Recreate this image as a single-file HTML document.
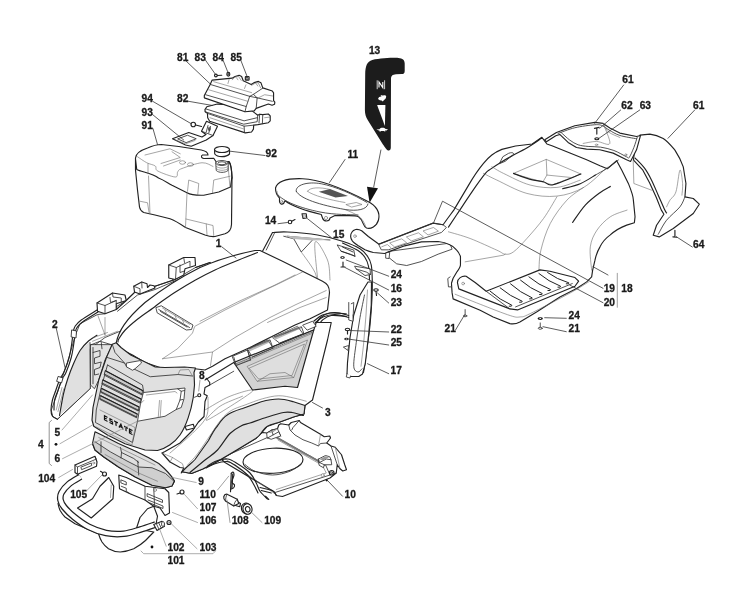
<!DOCTYPE html>
<html><head><meta charset="utf-8">
<style>
html,body{margin:0;padding:0;background:#fff;}
svg{display:block;}
text{font-family:"Liberation Sans",sans-serif;font-weight:bold;font-size:10.2px;fill:#1a1a1a;stroke:#1a1a1a;stroke-width:0.3px;}
.o{fill:#fff;stroke:#222;stroke-width:1.15px;vector-effect:non-scaling-stroke;stroke-linejoin:round;stroke-linecap:round;}
.on{fill:none;stroke:#222;stroke-width:1.15px;vector-effect:non-scaling-stroke;stroke-linejoin:round;stroke-linecap:round;}
.m{fill:none;stroke:#333;stroke-width:0.85px;vector-effect:non-scaling-stroke;stroke-linejoin:round;stroke-linecap:round;}
.mw{fill:#fff;stroke:#333;stroke-width:0.85px;vector-effect:non-scaling-stroke;stroke-linejoin:round;stroke-linecap:round;}
.t{fill:none;stroke:#6a6a6a;stroke-width:0.6px;vector-effect:non-scaling-stroke;stroke-linejoin:round;stroke-linecap:round;}
.tw{fill:#fff;stroke:#6a6a6a;stroke-width:0.6px;vector-effect:non-scaling-stroke;stroke-linejoin:round;stroke-linecap:round;}
.g{fill:#e0e0e0;stroke:#333;stroke-width:0.85px;vector-effect:non-scaling-stroke;stroke-linejoin:round;}
.go{fill:#e0e0e0;stroke:#222;stroke-width:1.15px;vector-effect:non-scaling-stroke;stroke-linejoin:round;}
.gn{fill:#e0e0e0;stroke:none;}
.l{fill:none;stroke:#333;stroke-width:0.8px;vector-effect:non-scaling-stroke;stroke-linecap:round;}
.k{fill:#111;stroke:none;}
</style></head><body>
<svg width="740" height="597" viewBox="0 0 740 597">
<rect width="740" height="597" fill="#fff"/>
<!-- 10_airfilter.svg -->
<g transform="translate(195,68) scale(0.12432)">
<!-- filter element 82 -->
<path class="o" d="M95,312 L80,335 L82,352 L100,365 L102,400 L118,428 L405,522 L455,515 L470,492 L472,460 L505,455 L590,440 L605,425 L605,385 L590,370 L545,375 L520,372 L505,380 L400,300 L180,290 Z"/>
<path class="m" d="M82,352 L392,452 L500,432 L505,380 M100,365 L395,468 L470,460 M395,468 L398,520 M90,330 L395,425 L500,400 M520,372 L515,440 M545,375 L542,448"/>
<path class="t" d="M120,400 L390,490 M560,400 L600,395"/>
<!-- cover 81 -->
<path class="o" d="M122,132 L138,97 L298,82 L322,68 L355,58 L375,68 L388,102 L452,132 L475,118 L510,108 L530,118 L545,160 L622,185 L632,200 L632,262 L642,275 L640,292 L620,300 L590,290 L492,325 L476,345 L402,352 L75,240 L75,222 Z"/>
<path class="m" d="M122,132 L440,228 L470,212 L545,162 M440,228 L412,310 L85,215 M412,310 L402,352 M440,228 L500,240 L622,268 M500,240 L492,325 M470,212 L500,240"/>
<path class="t" d="M150,110 L455,198 M110,175 L425,268 M300,95 L318,75 L350,68 L372,100 M455,140 L480,125 L508,118 L528,160 M275,90 L265,125 M410,135 L398,165 M335,80 L345,95 M495,130 L505,145 M510,240 L560,215 L625,225"/>
<!-- 83 screw -->
<circle class="o" cx="168" cy="60" r="11"/><path class="on" d="M180,60 L215,58"/>
<!-- 84 washer -->
<ellipse class="o" cx="268" cy="50" rx="12" ry="15"/><ellipse class="m" cx="268" cy="50" rx="5" ry="7"/>
<!-- 85 nut -->
<rect class="o" x="405" y="68" width="30" height="30" rx="5"/><rect class="m" x="413" y="76" width="14" height="14"/>
</g>
<!-- 12_tank.svg -->
<g transform="translate(120,105) scale(0.25)">
<!-- bracket 93 -->
<path class="o" d="M210,135 L275,110 L328,128 L344,118 L326,105 L346,65 L390,85 L372,122 L345,140 L285,165 L262,160 Z"/>
<path class="m" d="M232,135 L270,121 L305,135 L266,150 Z M326,105 L372,122 M352,82 L345,108 M362,86 L355,112"/>
<path class="t" d="M222,140 L262,155 L300,142"/>
<ellipse class="m" cx="357" cy="96" rx="3" ry="8"/>
<circle class="o" cx="293" cy="78" r="9"/><path class="on" d="M303,80 L326,86"/>
<!-- tank 91 -->
<path class="o" d="M62,212 C64,195 85,180 110,172 C130,163 150,158 165,158 L235,166 L325,180 C345,184 352,192 352,200 L330,200 C322,204 326,212 335,214 L375,213 L385,228 L436,226 C445,235 447,260 448,290 L446,478 C445,498 435,510 420,515 L380,526 C365,528 352,524 340,520 L262,490 C240,475 220,462 200,455 L140,440 L95,430 C84,425 80,418 78,408 L70,340 L62,260 Z"/>
<path class="on" d="M62,218 L67,258 C85,268 130,272 154,292 C175,300 185,308 208,321 L268,351 C280,358 300,362 335,361 L395,348 L442,328 L447,292"/>
<path class="t" d="M70,207 C76.2,211.0 95.2,224.8 107,231 C118.8,237.2 133.7,238.5 141,244 C148.3,249.5 137.7,256.7 151,264 C164.3,271.3 207.7,287.5 221,288 C234.3,288.5 226.5,272.7 231,267 C235.5,261.3 231.8,260.0 248,254 C264.2,248.0 307.3,232.3 328,231 C348.7,229.7 364.7,243.5 372,246"/><path class="t" d="M114,284 L120,435 M268,352 L262,490 M80,385 L110,391 L117,435 M264,456 L372,482 L375,522 M345,476 L348,518 M164,234 L241,210 L208,187 M174,244 L241,220 M370,350 L375,300 L440,285 M311,358 L315,314 L275,300 L270,345 M112,275 L112,235 M432,240 L440,330 M100,200 L200,175 L241,195"/>
<ellipse class="t" cx="250" cy="230" rx="12" ry="7"/><ellipse class="t" cx="282" cy="238" rx="12" ry="7"/>
<!-- neck -->
<path class="mw" d="M383,232 L385,262 C395,272 420,272 432,262 L433,232 Z"/>
<ellipse class="mw" cx="408" cy="232" rx="25" ry="10"/><ellipse class="m" cx="408" cy="233" rx="17" ry="6"/>
<path class="t" d="M384,245 C395,255 420,255 433,245 M384,254 C395,264 420,264 433,254"/>
<path class="on" d="M436,228 C446,240 447,262 448,292"/>
<!-- cap 92 -->
<path class="o" d="M378,178 L379,196 C390,210 425,210 438,196 L438,178 Z"/>
<ellipse class="o" cx="408" cy="178" rx="30" ry="12"/>
</g>
<!-- 20_decal.svg -->
<g>
<path style="fill:#1c1c1c" d="M365.2,74 C365.4,66 367,61.5 372.3,60 C380,58.3 392,57.7 398.5,57.9 C402.5,58 404.7,60 404.7,63.6 L404.7,71 C404.7,73.4 403.6,74 401.5,74.1 L396,74.2 C392.5,74.4 391,75.8 391,79 L390.8,147.5 C390.8,150 389.5,150.8 387.6,150.2 C386.5,149.8 384,146 382,143 L368,120.5 C365.8,117 364.9,114 364.9,110 Z"/>
<!-- N -->
<path d="M377.2,80.3 V89.2 M384.6,80.3 V89.2" stroke="#fff" stroke-width="0.8" fill="none"/>
<path d="M379,87.6 V82 L382.8,87.6 V82" stroke="#fff" stroke-width="1.1" fill="none" stroke-linejoin="miter"/>
<!-- rabbit -->
<path fill="#fff" d="M378,99 C378.5,97 380,96.3 381.5,96.5 L380.5,95 L382.5,95.6 L384.5,95.3 C385.8,95 386.6,96.2 386,97.6 L385.5,98.8 L384,100 L382.8,101.6 L381.6,100.4 L379.8,100.2 Z"/>
<!-- triangle -->
<path fill="#fff" d="M377.1,105 L385.4,105 L384.9,126 Z"/>
<!-- turtle -->
<path fill="#fff" d="M376.3,129.6 L379.5,129.3 C380.5,127.4 384.5,127.4 385.6,129.1 L388,129.3 L386.5,130.4 L385,130.6 L385.3,131.8 L383.8,131 L381,131 L379.8,132 L379.6,130.8 Z"/>
<!-- arrow -->
<path class="l" d="M380.9,150 L373.7,187"/>
<path class="k" d="M367,186.7 L378,188.2 L369.6,202.8 Z"/>
</g>
<!-- 30_cover11.svg -->
<g transform="translate(270,130) scale(0.25)">
<!-- cover 11 -->
<path class="o" d="M22,232 C30,205 70,193 130,195 C200,197 300,238 390,285 C425,302 442,330 434,360 C427,385 402,398 386,392 C370,385 374,360 354,347 C338,338 300,345 260,342 L240,352 C238,368 215,368 210,352 L205,338 C150,325 90,305 60,283 L55,293 C48,300 38,296 38,285 L38,272 C28,262 22,248 22,232 Z"/>
<path class="m" d="M28,255 C50,285 120,312 200,328 C260,340 320,338 352,340 M105,245 C100,220 150,205 205,215 C262,226 335,258 388,290 M105,245 C120,275 200,300 300,318 C350,326 388,318 392,296"/>
<path class="t" d="M150,245 C160,228 200,228 240,238 M150,245 C170,262 240,280 300,290 M305,298 L345,290 L368,298 L328,308 Z M300,318 C340,335 372,345 384,390 M28,245 L30,262"/>
<path d="M195,247 L240,236 L312,264 L262,270 Z" fill="#555"/>
<ellipse class="t" cx="47" cy="286" rx="4" ry="5"/><ellipse class="t" cx="224" cy="352" rx="6" ry="7"/>
<!-- 15 nut -->
<path class="o" d="M128,335 L145,335 L147,352 L132,354 Z"/><path class="t" d="M133,340 L141,340 L142,348 L134,349 Z"/>
<!-- 14 screw -->
<circle class="o" cx="80" cy="368" r="7"/><path class="on" d="M87,365 L100,358"/>
</g>
<!-- 30_rearbody.svg -->
<g transform="translate(370,130) scale(0.3338)">
<!-- underside of left footboard -->
<path class="mw" d="M47,366 L55,381 L80,401 L110,406 L154,394 L204,372 L246,357 L239,340 Z"/>
<path class="mw" d="M47,368 L47,384 L57,385 L59,367 Z"/>
<!-- main body -->
<path class="o" d="M27,342 L189,279 L219,284 C230,268 240,255 251,240 L295,166 C310,140 325,118 340,100 C348,90 356,82 365,75 C375,67 385,62 395,58 L436,48 L486,42 L515,22 L530,42 L545,47 L599,69 L649,89 L689,107 L711,116 L739,92 L754,120 L774,160 C784,185 789,200 789,210 L794,260 L792,278 L769,285 C750,292 730,305 719,315 C705,325 695,338 689,350 C680,365 676,380 674,390 L667,420 L664,440 L649,455 L619,475 L569,500 L499,545 L449,575 C440,580 430,582 419,580 L369,560 L330,540 L249,506 L246,488 L244,459 L249,444 L261,424 C268,415 271,410 271,404 L271,379 C268,370 264,364 259,359 C252,350 246,347 239,344 C228,338 215,335 204,334 L154,335 L104,347 L55,365 L44,370 L10,367 C0,365 -8,362 -15,359 L-35,347 C-45,340 -50,336 -53,332 C-57,326 -58,322 -58,319 C-58,314 -57,310 -55,307 C-52,302 -48,299 -43,298 C-36,297 -30,299 -25,302 L-5,319 Z"/>
<circle class="t" cx="-45" cy="318" r="4"/>
<!-- left footboard top -->
<path class="m" d="M27,342 L189,279 L219,284 L229,292 L214,307 L55,359 L35,359 Z"/>
<path class="t" d="M60,338 L95,326 L110,338 L75,350 Z M110,320 L145,308 L160,320 L125,332 Z M160,302 L190,292 L205,303 L175,314 Z M35,350 L52,343 L62,352"/>
<!-- rail inner -->
<path class="on" d="M235,291 C240.0,283.5 253.3,263.5 265,246 C276.7,228.5 291.7,205.2 305,186 C318.3,166.8 335.8,142.3 345,131 C354.2,119.7 351.7,124.0 360,118 C368.3,112.0 383.3,102.2 395,95 C406.7,87.8 416.5,82.5 430,75 C443.5,67.5 462.2,58.3 476,50 C489.8,41.7 506.8,29.2 513,25"/>
<path class="m" d="M388,100 L398,80 L415,70 C424,66 432,68 430,73 L406,93 Z"/>
<!-- top face perimeter -->
<path class="t" d="M340,130 C346.7,133.3 358.3,140.0 380,150 C401.7,160.0 440.0,182.0 470,190 C500.0,198.0 531.7,201.0 560,198 C588.3,195.0 615.0,186.3 640,172 C665.0,157.7 698.3,122.0 710,112"/>
<path class="t" d="M365,110 C370.8,113.3 380.8,120.8 400,130 C419.2,139.2 453.3,158.0 480,165 C506.7,172.0 535.0,174.5 560,172 C585.0,169.5 618.3,153.7 630,150"/>
<path class="t" d="M640,172 C631.7,178.3 606.7,192.0 590,210 C573.3,228.0 553.0,255.0 540,280 C527.0,305.0 517.7,336.7 512,360 C506.3,383.3 507.0,410.0 506,420"/>
<path class="t" d="M235,305 C245.8,308.3 275.8,315.8 300,325 C324.2,334.2 362.5,352.2 380,360 C397.5,367.8 396.7,371.2 405,372 C413.3,372.8 419.2,372.8 430,365 C440.8,357.2 455.0,341.7 470,325 C485.0,308.3 505.0,285.8 520,265 C535.0,244.2 553.3,210.8 560,200"/>
<path class="t" d="M285,395 L400,375 L405,372"/>
<path class="t" d="M664,420 C663.3,408.3 657.3,370.0 660,350 C662.7,330.0 670.0,315.0 680,300 C690.0,285.0 705.0,270.0 720,260 C735.0,250.0 761.7,243.3 770,240"/>
<!-- seat hole -->
<path class="t" d="M430,130 L528,88 L632,132 L548,164 Z M528,88 L530,135 L520,152 M530,135 L600,142"/>
<path class="on" d="M430,130 C438.3,133.0 465.0,143.8 480,148 C495.0,152.2 508.7,152.3 520,155 C531.3,157.7 529.3,167.8 548,164 C566.7,160.2 618.0,137.3 632,132"/>
<!-- grooves -->
<path class="on" d="M577,176 C585.8,173.5 613.7,167.8 630,161 C646.3,154.2 667.5,139.3 675,135"/>
<path class="on" d="M607,277 C613.3,268.3 631.2,240.0 645,225 C658.8,210.0 677.5,196.3 690,187 C702.5,177.7 715.0,172.0 720,169"/>
<path class="m" d="M675,135 C680.8,131.7 698.5,122.5 710,115 C721.5,107.5 738.3,94.2 744,90"/>
<!-- right footboard -->
<path class="o" d="M262,457 C262,445 275,436 288,438 L315,457 L348,483 L509,419 L539,423 L614,442 L625,453 L614,468 L442,539 L419,536 L266,476 Z"/>
<circle class="t" cx="279" cy="460" r="4"/>
<path class="m" d="M348,483 L419,536 M436,530 L606,460"/>
<path class="on" style="stroke-width:1px" d="M360,483 Q388.5,509 425,525 q2,4 -8,3 M390,473 Q419,498 456,513 q2,4 -8,3 M421,461 Q449.5,487 486,503 q2,4 -8,3 M451,450 Q479.5,475 516,490 q2,4 -8,3 M476,440 Q504.5,464 541,478 q2,4 -8,3 M506,430 Q534.5,454 571,468 q2,4 -8,3 M532,427 Q560,447.5 596,458 q2,4 -8,3"/>
<!-- lower skirt line -->
<path class="t" d="M255,492 C267.5,497.0 302.5,511.3 330,522 C357.5,532.7 400.0,549.7 420,556 C440.0,562.3 440.0,561.0 450,560 C460.0,559.0 455.0,562.0 480,550 C505.0,538.0 570.8,503.8 600,488 C629.2,472.2 645.8,460.5 655,455"/>
<path class="mw" d="M240,440 L233,445 L235,470 L243,470"/>
<path class="m" d="M285,538 L285,554"/><ellipse class="mw" cx="285" cy="557" rx="5" ry="2.5"/>
<ellipse class="k" cx="510" cy="565" rx="8" ry="4"/><ellipse cx="510" cy="565" rx="3" ry="1.5" fill="#fff"/>
<path class="m" d="M510,578 L510,592"/><ellipse class="mw" cx="510" cy="594" rx="6" ry="3"/>
</g>
<!-- 32_fender.svg -->
<g transform="translate(493,60) scale(0.3338)">
<!-- fender outer 61 -->
<path class="o" d="M440,225 L470,222 C490,225 500,230 510,235 C525,245 535,258 545,270 C558,290 565,305 570,320 L578,370 L575,410 L600,415 L618,432 L600,460 L540,505 L498,530 L480,525 L490,495 L512,462 L504,449 L489,411 L469,368 L449,330 L421,300 L425,260 Z"/>
<path class="on" d="M426,294 C430.7,299.0 445.8,313.0 454,324 C462.2,335.0 468.2,346.5 475,360 C481.8,373.5 488.5,390.3 495,405 C501.5,419.7 509.8,439.2 514,448 C518.2,456.8 519.0,456.3 520,458"/>
<path class="m" d="M575,410 C572.5,415.0 569.2,428.3 560,440 C550.8,451.7 530.8,466.3 520,480 C509.2,493.7 499.2,515.0 495,522"/>
<path class="t" d="M520,440 C521.7,436.7 525.3,427.5 530,420 C534.7,412.5 543.0,410.0 548,395 C553.0,380.0 556.7,334.2 560,330 C563.3,325.8 567.0,357.5 568,370 C569.0,382.5 566.3,399.2 566,405"/>
<path class="t" d="M420,300 L422,370 L475,390"/>
<!-- seat pan 61 -->
<path class="o" d="M155,239 L190,217 L245,197 L305,187 L330,190 L350,204 L380,219 L430,229 L442,226 L430,269 L412,304 L400,299 L360,279 L320,269 L280,267 L250,262 L225,247 L200,223 L188,227 L160,245 Z"/>
<path class="m" d="M205,218 C209.2,221.7 221.7,234.0 230,240 C238.3,246.0 245.8,250.8 255,254 C264.2,257.2 273.8,257.8 285,259 C296.2,260.2 309.2,259.0 322,261 C334.8,263.0 349.0,266.2 362,271 C375.0,275.8 392.3,286.5 400,290 C407.7,293.5 404.3,296.7 408,292 C411.7,287.3 418.0,272.0 422,262 C426.0,252.0 430.3,237.0 432,232"/>
<path class="m" d="M195,220 C203.3,217.2 226.7,207.3 245,203 C263.3,198.7 291.2,195.0 305,194 C318.8,193.0 320.8,194.3 328,197 C335.2,199.7 339.3,205.2 348,210 C356.7,214.8 366.3,221.7 380,226 C393.7,230.3 421.7,234.3 430,236"/>
<path class="t" d="M270,250 C276.7,249.0 296.7,244.0 310,244 C323.3,244.0 346.7,259.0 350,250 C353.3,241.0 330.8,195.8 330,190 C329.2,184.2 336.7,208.0 345,215 C353.3,222.0 374.2,229.2 380,232"/>
<circle class="t" cx="398" cy="284" r="3"/><ellipse class="t" cx="310" cy="254" rx="4" ry="2"/>
<!-- 62 screw, 63 washer -->
<path class="on" d="M304,205 L318,202 M311,204 L311,222"/>
<ellipse class="on" cx="311" cy="236" rx="6" ry="3"/>
<!-- 64 -->
<path class="on" d="M545,510 L545,528 M539,530 L551,531"/>
</g>
<!-- 35_dash.svg -->
<g transform="translate(255,215) scale(0.25)">
<!-- top plate -->
<path d="M70,70 L130,68 L250,80 L350,105 L420,135 L450,165 L465,200 L468,260 L440,270 L300,330 L0,250 L30,145 Z" fill="#fff"/>
<path class="on" d="M70,70 C80.0,69.7 100.0,66.3 130,68 C160.0,69.7 213.3,73.8 250,80 C286.7,86.2 321.7,95.8 350,105 C378.3,114.2 403.3,125.0 420,135 C436.7,145.0 442.5,154.2 450,165 C457.5,175.8 461.8,184.2 465,200 C468.2,215.8 468.5,238.3 469,260 C469.5,281.7 469.5,300.0 468,330 C466.5,360.0 463.5,405.0 460,440 C456.5,475.0 451.3,508.3 447,540 C442.7,571.7 436.2,615.0 434,630"/>
<path class="on" d="M350,112 C360.3,117.0 397.0,132.3 412,142 C427.0,151.7 433.0,159.5 440,170 C447.0,180.5 451.0,190.0 454,205 C457.0,220.0 457.3,250.8 458,260"/>
<path class="on" d="M70,70 L30,145"/>
<path class="m" d="M115,85 L155,95 L185,148 L230,100 M78,72 L45,140 M130,85 L240,95 L300,100"/>
<path class="gn" d="M118,82 L240,92 L300,100 L232,102 L155,96 Z" style="fill:#bbb"/>
<path class="t" d="M185,148 C194.2,161.7 228.3,204.7 240,230 C251.7,255.3 255.0,320.0 255,300 C255.0,280.0 234.2,130.0 240,110 C245.8,90.0 280.0,155.0 290,180 C300.0,205.0 298.3,246.7 300,260"/>
<!-- brackets -->
<path class="mw" d="M330,120 L395,140 L400,165 L345,145 Z"/>
<path class="m" d="M345,145 L385,158 L400,165 M350,128 L392,148" style="stroke:#222"/>
<path class="mw" d="M400,205 L460,215 L462,238 L440,242 L405,216 Z"/>
<path class="m" d="M405,216 L445,228 L462,238"/>
<!-- panel 17 -->
<path class="o" d="M452,268 L420,320 L395,400 L380,490 L370,590 L368,635 L375,646 L415,646 L430,636 L441,595 L455,474 L465,360 L466,268 Z"/>
<path class="m" d="M438,320 C435.0,335.0 425.5,378.3 420,410 C414.5,441.7 409.2,477.5 405,510 C400.8,542.5 393.8,585.3 395,605 C396.2,624.7 406.5,626.3 412,628 C417.5,629.7 425.3,617.2 428,615"/>
<path class="t" d="M450,300 L444,400 L434,520 L424,605"/>
<path class="mw" d="M375,350 L375,420 L392,425 L392,400 M385,355 L395,350 L393,400"/>
<path class="mw" d="M355,528 L375,522 L372,540 Z"/>
<path class="mw" d="M368,635 L365,648 L380,652 L382,644"/>
<!-- cable -->
<path class="on" d="M235,425 C240.8,420.8 255.8,405.8 270,400 C284.2,394.2 302.5,389.7 320,390 C337.5,390.3 365.8,400.0 375,402"/>
<path class="on" d="M240,432 C245.3,428.0 258.7,413.7 272,408 C285.3,402.3 302.8,397.7 320,398 C337.2,398.3 365.8,408.0 375,410"/>
<!-- small hardware -->
<ellipse class="k" cx="350" cy="170" rx="9" ry="5"/><ellipse cx="350" cy="170" rx="4" ry="2" fill="#fff"/>
<path class="on" d="M352,188 L352,206 M344,208 L360,208"/>
<ellipse class="o" cx="484" cy="300" rx="9" ry="5"/><path class="on" d="M484,305 L486,322"/>
<ellipse class="o" cx="370" cy="458" rx="9" ry="5"/><path class="on" d="M370,463 L370,476"/>
<ellipse class="k" cx="366" cy="496" rx="9" ry="5"/><ellipse cx="366" cy="496" rx="4" ry="2" fill="#fff"/>
</g>
<!-- 40_panel2.svg -->
<g transform="translate(30,235) scale(0.25)">
<!-- panel body -->
<path class="mw" d="M720,110 L662,130 L580,178 L500,205 L420,228 L385,262 L300,315 L270,318 L200,355 L185,392 L170,440 L150,510 L135,550 L120,600 L100,660 L85,700 L90,725 L110,737 L241,614 L240,455 L300,410 L360,385 L720,250 Z"/>
<path class="gn" d="M238,428 L201,461 L174,515 L151,575 L134,635 L118,722 L241,614 Z"/>
<path class="m" d="M241,614 L112,735 M240,430 L241,614"/>
<path class="on" d="M268,401 C262.3,404.8 245.2,414.0 234,424 C222.8,434.0 211.0,445.8 201,461 C191.0,476.2 182.3,496.0 174,515 C165.7,534.0 157.7,555.0 151,575 C144.3,595.0 139.5,610.5 134,635 C128.5,659.5 120.7,707.5 118,722"/>
<!-- rail thick -->
<path class="on" d="M268,300 C257.5,306.7 219.5,329.3 205,340 C190.5,350.7 186.3,356.2 181,364 C175.7,371.8 175.3,375.3 173,387 C170.7,398.7 169.7,417.2 167,434 C164.3,450.8 162.2,469.0 157,488 C151.8,507.0 142.2,533.5 136,548 C129.8,562.5 125.5,562.7 120,575 C114.5,587.3 108.0,608.0 103,622 C98.0,636.0 93.2,646.0 90,659 C86.8,672.0 84.0,689.0 84,700 C84.0,711.0 85.7,718.8 90,725 C94.3,731.2 106.7,735.0 110,737"/>
<path class="on" d="M272,308 C261.7,314.7 224.0,337.7 210,348 C196.0,358.3 192.8,363.2 188,370 C183.2,376.8 183.2,378.0 181,389 C178.8,400.0 177.7,419.2 175,436 C172.3,452.8 170.2,471.0 165,490 C159.8,509.0 150.2,535.5 144,550 C137.8,564.5 133.5,564.7 128,577 C122.5,589.3 116.0,610.0 111,624 C106.0,638.0 100.5,648.3 98,661 C95.5,673.7 96.3,693.5 96,700"/>
<path class="mw" d="M168,380 L186,384 L184,412 L166,408 Z M114,566 L132,572 L126,592 L108,586 Z" style="stroke:#222"/>
<path class="t" d="M300,400 L270,318 M300,400 L300,330 M250,425 L350,385 M255,410 L310,390 M105,700 L128,610 M112,706 L135,615"/>
<!-- top edge toward hood -->
<path class="on" d="M720,110 L662,130 M580,178 L500,205 M420,228 L385,262 L345,298"/>
<path class="m" d="M700,128 L600,175 L500,218 L430,240 L350,305"/>
<!-- clip A -->
<path class="o" d="M268,272 L330,232 L380,240 L385,262 L345,275 L345,298 L300,315 L270,305 Z"/>
<path class="m" d="M268,272 L300,282 L345,262 L345,275 M300,282 L300,315 M320,250 L322,270 L345,262 M330,232 L332,248 L365,252 L365,268"/>
<!-- clip B -->
<path class="o" d="M415,205 L447,188 L468,195 L470,210 L480,200 L496,203 L500,212 L440,236 L418,228 Z"/>
<path class="m" d="M415,205 L440,215 L440,236 M447,188 L448,212"/>
<!-- clip C -->
<path class="o" d="M555,120 L615,90 L660,90 L662,122 L620,135 L615,160 L580,178 L555,172 Z"/>
<path class="m" d="M555,120 L585,130 L640,105 L640,125 M585,130 L582,178 M600,120 L600,150 L615,145 M615,90 L618,110 M570,178 L575,190"/>
</g>
<!-- 44_tray.svg -->
<g transform="translate(200,400) scale(0.25)">
<path class="o" d="M60,215 L250,130 L268,132 L288,120 L310,115 L315,100 L323,95 L355,100 L365,90 L397,82 L402,90 L482,137 L497,147 L519,144 L522,152 L507,172 L524,184 L541,189 L566,219 L579,259 L586,279 L571,284 L559,274 L549,259 L545,292 L520,312 L330,386 L305,382 L298,368 L100,250 Z"/>
<path class="m" d="M355,100 L360,120 L380,140 L412,159 L447,172 L474,184 L482,174 L507,172 M397,82 L372,110 L367,120 M524,184 L549,259 M100,225 L270,150 M303,147 L502,259 L520,300 L300,370 M520,300 L545,292 M323,144 L315,127"/>
<path class="t" d="M312,160 L490,262 L505,292 L305,358 M100,235 L295,372 M541,189 L560,274 M482,137 L474,184"/>
<path class="m" d="M306,150 L500,260" style="stroke-dasharray:1 1;stroke-width:2px;stroke:#777"/>
<!-- left clip -->
<path class="mw" d="M268,132 L288,120 L310,115 L315,127 L323,144 L305,150 L285,157 L270,152 Z"/>
<path class="m" d="M288,120 L292,140 L315,127 M270,152 L292,140"/>
<path class="gn" d="M272,132 L288,123 L308,118 L290,130 Z" style="fill:#999"/>
<!-- right clip -->
<path class="mw" d="M474,236 L502,222 L519,227 L524,239 L527,259 L497,259 L494,271 L478,262 Z"/>
<path class="m" d="M474,236 L478,250 L497,259 M478,250 L505,236 L524,239"/>
<path class="gn" d="M478,237 L502,225 L516,229 L492,242 Z" style="fill:#999"/>
<!-- hole -->
<ellipse class="on" cx="292" cy="243" rx="120" ry="50" transform="rotate(-3 292 243)"/>
<path class="m" d="M180,258 C186.7,262.5 201.7,278.0 220,285 C238.3,292.0 266.7,300.0 290,300 C313.3,300.0 340.8,292.5 360,285 C379.2,277.5 397.5,260.0 405,255"/>
<!-- bolt right -->
<circle class="o" cx="527" cy="291" r="9"/><circle class="m" cx="527" cy="291" r="4"/><circle class="tw" cx="491" cy="301" r="6"/>
<circle class="k" cx="507" cy="321" r="4.5"/>
<!-- 110 pin -->
<path class="on" d="M125,293 L122,367 M131,296 L128,352"/>
<path class="on" d="M125,293 C126.2,292.2 130.2,286.8 132,288 C133.8,289.2 136.3,295.0 136,300 C135.7,305.0 131.3,313.0 130,318 C128.7,323.0 126.7,326.3 128,330 C129.3,333.7 137.0,336.3 138,340 C139.0,343.7 136.3,349.3 134,352 C131.7,354.7 125.7,355.3 124,356"/>
<!-- 108 pin -->
<path class="o" d="M145,404 L162,414 L159,427 L142,422 Z"/>
<path class="o" d="M95,387 C97,380 102,376 108,377 L149,397 L155,414 L135,424 L102,404 C97,400 94,394 95,387 Z"/>
<path class="m" d="M149,397 C142,402 136,414 135,424 M108,377 C104,385 102,396 102,404"/>
<!-- 109 bushing -->
<ellipse class="o" cx="185" cy="434" rx="19" ry="22" transform="rotate(-15 185 434)"/>
<ellipse class="o" cx="190" cy="436" rx="18" ry="21" transform="rotate(-15 190 436)"/>
<ellipse class="on" cx="191" cy="437" rx="9" ry="11" transform="rotate(-15 191 437)"/>
</g>
<!-- 45_body3.svg -->
<g transform="translate(180,300) scale(0.25)">
<!-- cable to dash -->
<path class="on" d="M545,98 C547.5,93.7 550.8,79.7 560,72 C569.2,64.3 582.5,54.8 600,52 C617.5,49.2 654.2,54.5 665,55"/>
<path class="on" d="M556,100 C558.3,96.7 561.8,86.3 570,80 C578.2,73.7 589.2,64.3 605,62 C620.8,59.7 655.0,65.3 665,66"/>
<!-- body -->
<path class="o" d="M100,320 L215,250 L535,120 L545,90 L605,90 L590,160 L560,280 L530,400 L500,422 L496,456 L454,468 L394,490 L348,506 L325,532 L303,554 L227,600 L151,645 L91,676 L46,694 L8,687 L5,692 L15,672 L0,670 L-40,648 L-72,612 L-60,606 L0,572 L53,519 L73,489 L96,466 L100,406 L109,383 L96,376 L100,350 L119,340 L119,330 L106,313 Z"/>
<!-- band -->
<path class="go" d="M19,676 C35,660 48,652 60,638 L114,562 C125,540 135,520 151,502 C162,485 172,470 189,460 C205,448 225,442 250,434 L325,407 C350,400 370,396 394,396 C415,396 435,402 454,407 L500,422 L496,456 L454,468 L394,490 C375,495 360,498 348,506 C338,512 333,522 325,532 C318,542 312,548 303,554 L227,600 L151,645 L91,676 L46,694 L8,687 Z"/>
<path class="on" d="M40,690 C50.0,681.7 81.7,655.0 100,640 C118.3,625.0 133.3,617.7 150,600 C166.7,582.3 184.3,550.0 200,534 C215.7,518.0 230.7,511.0 244,504 C257.3,497.0 262.3,498.0 280,492 C297.7,486.0 327.7,475.0 350,468 C372.3,461.0 397.7,453.0 414,450 C430.3,447.0 434.7,448.0 448,450 C461.3,452.0 486.3,460.0 494,462"/>
<path class="t" d="M30,660 C36.7,652.5 54.2,635.8 70,615 C85.8,594.2 109.2,557.8 125,535 C140.8,512.2 151.7,493.5 165,478 C178.3,462.5 189.2,451.7 205,442 C220.8,432.3 239.2,427.8 260,420 C280.8,412.2 307.5,401.2 330,395 C352.5,388.8 374.2,383.5 395,383 C415.8,382.5 436.7,388.3 455,392 C473.3,395.7 496.7,402.8 505,405"/>
<path class="t" d="M100,440 C116.7,430.8 168.3,397.5 200,385 C231.7,372.5 305.0,349.2 290,365 C275.0,380.8 131.7,470.0 110,480 C88.3,490.0 136.7,440.8 160,425 C183.3,409.2 235.0,391.7 250,385"/>
<path class="t" d="M112,390 C111.0,402.7 116.3,442.2 106,466 C95.7,489.8 74.3,508.7 50,533 C25.7,557.3 -25.0,598.8 -40,612"/>
<path class="m" d="M119,340 L215,285"/>
<path class="t" d="M-40,648 L-30,630 L10,655 L15,672 M-72,612 L-30,630"/>
<!-- front flange clips -->
<path class="o" d="M20,506 L53,497 L58,512 L26,520 Z"/>
<circle class="o" cx="77" cy="381" r="6"/><path class="m" d="M70,384 L58,389"/>
<!-- engine blocks -->
<path class="mw" d="M210,225 L270,200 L282,240 L225,262 Z M272,195 L352,160 L372,192 L290,228 Z M372,150 L470,105 L492,135 L400,172 Z M492,100 L530,85 L545,105 L510,120 Z"/>
<path class="gn" d="M372,150 L470,105 L478,116 L380,160 Z M272,195 L352,160 L358,170 L278,206 Z" style="fill:#bbb"/>
<!-- vent -->
<path class="go" d="M215,250 L535,120 L470,350 L420,345 L290,360 Z" style="fill:#d2d2d2"/>
<path class="gn" d="M270,265 L510,160 L455,310 L310,325 Z" style="fill:#dedede"/>
<path class="t" d="M270,265 L510,160 L455,310 L310,325 Z M278,272 L498,176 L448,302 L316,316 Z M310,325 L360,295 L420,290 L455,310 M222,262 L528,134"/>
<path class="m" d="M222,256 L530,128" style="stroke-dasharray:1 1.2;stroke:#555"/>
</g>
<!-- 46_rod.svg -->
<g transform="translate(200,400) scale(0.25)">
<!-- rod -->
<path class="on" d="M30,265 C35.0,261.8 46.7,250.8 60,246 C73.3,241.2 95.0,234.5 110,236 C125.0,237.5 135.0,245.7 150,255 C165.0,264.3 187.5,279.2 200,292 C212.5,304.8 218.3,319.8 225,332 C231.7,344.2 232.5,354.3 240,365 C247.5,375.7 265.0,390.8 270,396"/>
<path class="on" d="M25,272 C30.8,269.2 46.2,259.3 60,255 C73.8,250.7 93.8,244.5 108,246 C122.2,247.5 131.3,255.0 145,264 C158.7,273.0 178.3,287.7 190,300 C201.7,312.3 208.0,326.0 215,338 C222.0,350.0 229.2,366.3 232,372"/>
<path class="on" d="M240,350 L290,362 L305,380 M245,362 L285,372 M262,385 L275,398"/>
</g>
<!-- 50_hood.svg -->
<g transform="translate(95,235) scale(0.25)">
<path class="o" d="M85,430 C95,385 120,340 200,270 C270,215 350,165 420,130 C470,108 560,78 640,62 L660,62 L750,105 L840,150 L910,185 C930,195 937,205 938,230 L930,300 L860,335 L800,360 L720,400 L620,450 L520,495 L470,525 L440,540 L400,535 L330,535 L260,530 L200,510 L150,480 L100,455 Z"/>
<path class="on" d="M92,428 C92.5,426.0 90.3,423.8 95,416 C99.7,408.2 107.3,394.3 120,381 C132.7,367.7 152.5,350.7 171,336 C189.5,321.3 216.0,304.0 231,293 C246.0,282.0 245.8,280.8 261,270 C276.2,259.2 298.5,243.0 322,228 C345.5,213.0 375.7,194.7 402,180 C428.3,165.3 453.7,152.3 480,140 C506.3,127.7 531.7,117.7 560,106 C588.3,94.3 635.0,76.0 650,70"/>
<path class="t" d="M270,495 L330,455 L390,392 L398,368 M270,495 L470,468 L462,522 M470,468 L560,410 L700,330 L800,280 L925,222 M400,365 L520,300 L640,240 L740,192 L830,148 M420,345 L570,268 L720,200 L800,160 M690,350 L820,290 L925,250"/>
<!-- scoop -->
<path class="m" d="M245,290 L265,283 L392,360 L386,378 L365,380 L250,312 Z"/>
<path class="m" d="M255,298 L378,370 M262,306 L368,368"/>
<path class="t" d="M270,292 L380,358 M280,300 L285,312 M320,322 L325,335 M350,340 L355,352"/>
</g>
<!-- 55_blocks.svg -->
<g transform="translate(180,300) scale(0.25)">
<path d="M276,194 L360,160 M378,148 L486,108" fill="none" stroke="#444" stroke-width="7" stroke-dasharray="3 1.5"/>
<path class="m" d="M270,200 L282,240 M360,160 L372,192 M486,108 L496,135 M372,192 L290,228 M496,135 L400,172 M215,228 L225,262 L282,240"/>
</g>
<!-- 60_grille.svg -->
<g transform="translate(75,335) scale(0.25)">
<!-- left toothed bracket -->
<path class="mw" d="M62,40 L62,200 L78,215 L95,180 L120,100 L150,40 Z" style="fill:#e4e4e4"/>
<path class="m" d="M62,40 L100,25 L150,40 M72,50 L72,195 M72,70 L100,62 L100,85 L78,92 L78,115 L105,108 L100,130 L78,138 L78,160 L95,156 M105,30 L108,55"/>
<!-- grille main -->
<path class="go" d="M149,37 L165,31 L184,50 L223,80 L262,99 L295,115 L321,128 L360,130 L438,128 L482,132 L476,150 L478,200 L473,250 C465,300 445,365 420,400 C400,430 360,455 330,462 L280,460 L200,435 L130,400 L75,365 L68,340 L72,290 L95,180 L126,89 Z"/>
<!-- grille top edge -->
<path class="m" d="M126,89 L198,112 L207,128 L240,138 L301,167 L412,158 L470,164 M130,120 L270,200 L275,230 M130,120 L105,210 L85,300 L82,350 L230,430 L250,345 M149,37 L160,70 L198,112"/>
<path class="mw" d="M207,112 L262,102 L266,112 L240,135 L230,141 L207,128 Z"/>
<path class="t" d="M412,158 L420,140 L455,138 L470,164"/>
<!-- headlight -->
<path class="mw" d="M275,230 L410,215 L440,212 L436,255 L425,290 L405,298 L360,325 L250,345 L262,275 Z"/>
<path class="m" d="M410,215 L425,225 L420,260 L405,298 M425,225 L438,222 M420,260 L432,258"/>
<path class="t" d="M338,262 L333,330 M345,262 L341,328 M285,240 L400,226 L408,232 M262,275 L275,262"/>
<!-- slats -->
<path class="m" d="M122,143 L270,222 L268,240 L118,161 Z M112,180 L264,256 L261,273 L109,197 Z M107,214 L256,288 L253,304 L104,230 Z M103,243 L249,316 L246,331 L100,258 Z" style="fill:#c8c8c8"/>
<path class="on" d="M122,143 L270,222 M112,180 L264,256 M107,214 L256,288 M103,243 L249,316"/>
<path class="m" d="M119,157 L268,236 M110,193 L262,269 M105,227 L254,301 M101,255 L247,328" style="stroke:#222"/>
<!-- plate -->
<path class="t" d="M100,300 L240,370 L228,440 L85,368"/>
<!-- lower trim 6 -->
<path class="go" d="M70,434 L80,387 L107,400 L174,434 L241,464 L295,491 L335,514 C360,535 385,560 398,584 L388,604 L362,611 L308,601 L241,568 L174,528 L114,487 L80,460 Z"/>
<path class="gn" d="M80,427 L141,467 L208,504 L255,528 L308,531 L362,554 L395,584 L388,604 L362,611 L308,601 L241,568 L174,528 L114,487 L80,460 L70,434 Z" style="fill:#cfcfcf"/>
<path class="m" d="M80,427 L141,467 L208,504 L255,528 L308,531 L362,554 L395,584 M104,427 L104,470 M251,504 L255,560 M182,450 L186,470 L235,494 L255,510 M186,470 L184,492"/>
<path class="t" d="M95,410 L180,452 L250,486 L320,520 M120,478 L250,550 L330,585"/>
<path class="on" d="M70,434 L80,460 L114,487 L174,528 L241,568 L308,601 L362,611 L388,604 L398,584"/>
<!-- ESTATE logo as strokes -->
<g transform="translate(116,338) skewY(28)" fill="none" stroke="#111" stroke-width="5" stroke-linecap="butt">
<path d="M14,-16 H2 V0 H14 M2,-8 H11"/>
<path d="M34,-16 H24 V-8 H34 V0 H22"/>
<path d="M40,-16 H56 M48,-16 V0"/>
<path d="M60,0 L68,-17 L76,0 M63,-6 H73"/>
<path d="M80,-16 H96 M88,-16 V0"/>
<path d="M114,-16 H102 V0 H114 M102,-8 H111"/>
</g>
</g>
<!-- 70_bumper.svg -->
<g transform="translate(40,440) scale(0.25)">
<!-- back plates -->
<path class="o" d="M275,150 L295,185 L292,235 L205,312 L150,272 L210,235 L240,185 Z"/>
<path class="t" d="M285,180 L282,230"/>
<!-- plate 106 -->
<path class="o" d="M315,140 L345,150 L420,185 L500,195 L515,210 L518,292 L500,302 L480,272 L455,265 L420,240 L360,215 L318,195 Z"/>
<path class="m" d="M420,185 L420,240 M325,160 L345,168 L345,180 L325,172 Z M325,185 L345,193 L345,205 L360,215 M430,215 L490,240 L490,250 L430,226 Z M432,240 L492,264 L492,274 L440,252 M455,190 L458,262"/>
<circle class="t" cx="460" cy="200" r="6"/>
<!-- skirt -->
<path class="o" d="M455,265 L470,305 L462,348 L385,356 L400,310 L430,275 Z"/>
<path class="o" d="M72,254 C74,265 76,272 80,281 C86,292 92,300 100,308 L140,335 L234,375 C238,388 242,398 248,408 C256,420 264,428 274,435 C290,444 305,448 321,448 C340,447 358,442 375,435 C392,426 408,415 422,402 L455,368 L402,358 L335,375 L264,372 L194,347 L137,308 L97,269 L82,240 Z"/>
<!-- tube -->
<path d="M162,147 C154.5,151.7 129.7,164.3 117,175 C104.3,185.7 91.8,200.2 86,211 C80.2,221.8 80.2,230.3 82,240 C83.8,249.7 87.8,257.7 97,269 C106.2,280.3 120.8,295.0 137,308 C153.2,321.0 172.8,336.3 194,347 C215.2,357.7 240.5,367.3 264,372 C287.5,376.7 312.0,377.3 335,375 C358.0,372.7 380.8,364.2 402,358 C423.2,351.8 452.0,341.3 462,338" fill="none" stroke="#222" stroke-width="27" stroke-linecap="butt"/>
<path d="M162,147 C154.5,151.7 129.7,164.3 117,175 C104.3,185.7 91.8,200.2 86,211 C80.2,221.8 80.2,230.3 82,240 C83.8,249.7 87.8,257.7 97,269 C106.2,280.3 120.8,295.0 137,308 C153.2,321.0 172.8,336.3 194,347 C215.2,357.7 240.5,367.3 264,372 C287.5,376.7 312.0,377.3 335,375 C358.0,372.7 380.8,364.2 402,358 C423.2,351.8 452.0,341.3 462,338" fill="none" stroke="#fff" stroke-width="17" stroke-linecap="butt"/>
<!-- fitting 102 -->
<path class="o" d="M455,338 L488,325 L498,345 L468,362 Z"/>
<path class="m" d="M465,334 L476,357 M474,330 L485,352"/>
<ellipse class="mw" cx="492" cy="336" rx="6" ry="10"/>
<!-- nut 103 -->
<circle class="o" cx="516" cy="330" r="8"/><circle class="t" cx="516" cy="330" r="3.5"/>
<!-- bracket 104 -->
<path class="o" d="M140,100 L220,65 L228,88 L226,105 L150,137 L140,130 Z"/>
<path class="m" d="M140,100 L150,108 L150,137 M150,108 L226,76 M165,108 L205,92 L207,102 L168,118 Z"/>
<circle class="t" cx="215" cy="92" r="4"/>
<!-- screw 105 -->
<circle class="o" cx="258" cy="136" r="8"/><path class="on" d="M250,130 L242,125"/>
<!-- screw 107 -->
<circle class="o" cx="568" cy="208" r="8"/><path class="on" d="M560,212 L548,216"/>
</g>
<!-- 90_labels.svg -->
<g class="lab" style="filter:grayscale(1)" transform="translate(0,0.7)">
<text x="177" y="60.5">81</text><text x="194.5" y="60.5">83</text><text x="212.5" y="60.5">84</text><text x="230.5" y="60.5">85</text>
<text x="177" y="101.5">82</text><text x="141.5" y="101.5">94</text><text x="141.5" y="115">93</text><text x="141.5" y="128.5">91</text>
<text x="265.5" y="156.5">92</text><text x="368.9" y="53.7">13</text><text x="347.5" y="157.7">11</text>
<text x="264.9" y="223.7">14</text><text x="333" y="237">15</text><text x="215.7" y="246.2">1</text>
<text x="390.7" y="277.5">24</text><text x="390.7" y="291.2">16</text><text x="390.7" y="305">23</text>
<text x="390.7" y="332">22</text><text x="390.7" y="345.7">25</text><text x="390.5" y="373">17</text>
<text x="52" y="327.5">2</text><text x="199" y="378">8</text><text x="325" y="415.5">3</text>
<text x="54.5" y="435">5</text><text x="38" y="447.5">4</text><text x="54.5" y="461">6</text>
<text x="38.2" y="481.6">104</text><text x="70.2" y="497.2">105</text><text x="198.2" y="484">9</text>
<text x="199.5" y="497">110</text><text x="199.5" y="510.5">107</text><text x="199.5" y="523.5">106</text>
<text x="231.7" y="523.5">108</text><text x="264.2" y="523.5">109</text><text x="344.5" y="497">10</text>
<text x="167.5" y="550">102</text><text x="199.5" y="550">103</text><text x="167.5" y="563">101</text>
<text x="622.3" y="82.4">61</text><text x="621.3" y="108.3">62</text><text x="639.7" y="108.3">63</text><text x="693" y="108.3">61</text>
<text x="693" y="247.5">64</text><text x="603.7" y="291.7">19</text><text x="621.3" y="291.7">18</text><text x="603.7" y="305">20</text>
<text x="444.5" y="331.2">21</text><text x="568.5" y="318.2">24</text><text x="568.5" y="331.5">21</text>
</g>
<circle class="k" cx="56" cy="444.3" r="1.4"/><circle class="k" cx="152" cy="547" r="1.4"/>
<g class="l">
<path d="M185.5,60.5 L210,83.7 M205,59.5 L215,73.7 M223,60 L228,72.5 M240.7,60 L247,76.2 M188,101.2 L212.5,105.5 M152.5,101.2 L191.2,123.7 M152.5,114.5 L183.7,140 M153,128.7 L157.5,144.5 M265,155.5 L230,151.2"/>
<path d="M345,159.5 L329.5,182.5 M278,223.7 L287.5,222.5 M331.2,237.5 L307.5,218.7 M222,247 L236,258"/>
<path d="M388.7,276.2 L346.2,260 M388.7,290 L345,267.5 M388.7,303 L377.5,293 M388.7,332 L350,330.5 M388.7,345 L349.5,339.2 M388.7,373.7 L367.5,363.7"/>
<path d="M56.2,328 L65,367.5 M322.5,408 L312.5,402.5"/>
<path d="M62,430 L92.5,395 M60,443.7 L92.5,425 M62.5,458.7 L137.5,421.2" style="stroke:#8a8a8a;stroke-width:0.7px"/>
<path d="M58.7,477.5 L72.5,469.5 M86.2,491.2 L102,475 M196.2,482.5 L172.5,477.5 M197.5,508.7 L184.5,494.5 M197.5,522.5 L172.5,512.5 M166.2,546.2 L159.5,528.7 M197,548.7 L171.2,523.7" style="stroke:#8a8a8a;stroke-width:0.7px"/>
<path d="M217.5,490 L228.7,476.2 M230,522.5 L227,500 M262,522.5 L251.2,512 M200,380 L198.7,391" style="stroke:#777;stroke-width:0.7px"/><path d="M342.5,496.2 L327.5,480.5"/>
<path d="M623.7,85 L594.7,123.3 M620.7,110 L599.7,128.3 M639.7,110 L599,138.3 M694.7,110 L668,138.3 M692.3,247 L676.3,236.7"/>
<path d="M603,288.3 L442.5,201.2 L433.7,222.5 M603,302.7 L569.7,285 M608,275 L593,266.7 M566.3,318.3 L544.7,317.7 M566.3,331.7 L543,326.7 M455.5,330 L464.5,315"/>
<path d="M51.5,420.5 L49.2,422.5 L49.2,463.5 L51.5,465.5" style="stroke:#777"/>
<path d="M141,551 L143.7,553.7 L213,553.7 L215.5,551" style="stroke:#8a8a8a;stroke-width:0.7px"/>
<path d="M617.3,273.3 L617.3,307.3" style="stroke:#888"/>
</g>
</svg>
</body></html>
